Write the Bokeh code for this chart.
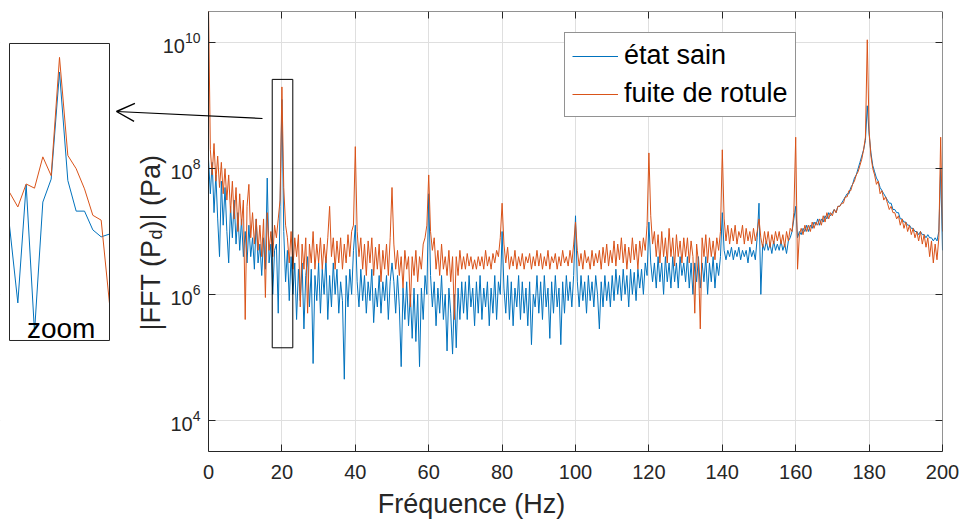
import numpy as np
from math import pi
from bokeh.plotting import figure
from bokeh.models import (Range1d, FixedTicker, LogAxis, LinearAxis, LogScale,
                          BoxAnnotation, Arrow, OpenHead, Label)
from bokeh.embed import file_html
from bokeh.resources import INLINE

# ---------------- data ----------------
# spectrum sampled every 0.5 Hz from 0 to 200 Hz; values are log10 of |FFT(Pd)| in Pa
freq_hz = np.arange(0, 200.5, 0.5)

fuite_log10 = [
    10.6, 8.3, 7.9, 8.4, 7.8, 8.2, 7.7, 8.1, 7.6, 8.0, 7.5, 7.9, 7.3, 7.8, 7.2, 7.7, 7.0, 7.6, 7.1, 7.5,
    5.6, 7.4, 7.75, 6.9, 7.3, 6.8, 7.2, 6.7, 7.1, 6.6, 7.2, 5.95, 7.3, 6.7, 7.0, 6.6, 7.1, 6.9, 7.2, 7.5,
    9.3, 7.7, 7.1, 6.9, 6.5, 7.0, 6.4, 6.9, 6.6, 6.95, 5.8, 6.8, 6.4, 6.9, 5.7, 6.8, 6.5, 7.0, 6.4, 6.8,
    6.5, 6.9, 6.4, 6.8, 6.5, 6.9, 7.4, 6.6, 6.9, 6.4, 6.85, 6.5, 6.9, 6.4, 6.8, 6.5, 6.95, 6.6, 7.0, 7.1,
    8.35, 7.0, 6.6, 6.9, 6.4, 6.8, 6.3, 6.85, 6.5, 6.9, 6.3, 6.75, 6.4, 6.8, 6.2, 6.7, 6.4, 6.8, 6.3, 6.9,
    7.7, 6.8, 6.4, 6.7, 6.3, 6.6, 6.1, 6.7, 6.4, 6.6, 5.8, 6.6, 6.3, 6.7, 6.2, 6.6, 6.4, 6.8, 6.9, 7.1,
    7.9, 7.0, 6.7, 6.9, 6.4, 6.7, 6.3, 6.8, 6.4, 6.6, 6.3, 6.7, 6.2, 6.6, 5.6, 6.6, 6.3, 6.7, 6.4, 6.6,
    6.4, 6.65, 6.45, 6.6, 6.4, 6.55, 6.4, 6.6, 6.45, 6.6, 6.4, 6.7, 6.45, 6.6, 6.4, 6.65, 6.5, 6.7, 6.6, 6.9,
    7.45, 6.8, 6.5, 6.75, 6.4, 6.6, 6.45, 6.7, 6.4, 6.6, 6.45, 6.65, 6.4, 6.6, 6.5, 6.65, 6.4, 6.6, 6.45, 6.7,
    6.45, 6.65, 6.4, 6.6, 6.45, 6.7, 6.4, 6.6, 6.5, 6.65, 6.4, 6.6, 6.45, 6.7, 6.5, 6.6, 6.45, 6.7, 6.5, 6.8,
    7.15, 6.7, 6.45, 6.65, 6.4, 6.7, 6.5, 6.6, 6.4, 6.7, 6.45, 6.65, 6.5, 6.7, 6.4, 6.75, 6.5, 6.8, 6.45, 6.7,
    6.5, 6.85, 6.45, 6.8, 6.55, 6.9, 6.5, 6.8, 6.4, 6.75, 6.5, 6.9, 6.55, 6.8, 6.4, 6.85, 6.6, 6.9, 6.7, 7.1,
    8.25, 7.25, 6.8, 7.0, 6.6, 6.95, 6.5, 7.0, 6.6, 6.9, 6.5, 7.05, 6.6, 6.9, 6.45, 6.95, 6.6, 6.85, 6.5, 6.9,
    6.6, 6.9, 6.5, 6.85, 6.6, 5.7, 6.8, 6.5, 5.45, 6.9, 6.6, 6.95, 6.5, 6.9, 6.6, 6.85, 6.55, 6.9, 6.7, 7.0,
    8.3, 7.2, 6.85, 7.1, 6.8, 7.05, 6.85, 7.1, 6.8, 7.0, 6.9, 7.1, 6.8, 7.05, 6.85, 7.0, 6.8, 7.05, 6.85, 7.0,
    7.2, 6.9, 6.75, 7.0, 6.8, 7.0, 6.75, 6.95, 6.8, 7.0, 6.85, 7.0, 6.8, 6.95, 6.75, 7.0, 6.85, 7.05, 7.0, 7.3,
    8.5, 6.4, 6.95, 7.05, 6.95, 7.1, 7.0, 7.1, 7.0, 7.15, 7.05, 7.15, 7.1, 7.2, 7.1, 7.25, 7.15, 7.3, 7.2, 7.3,
    7.25, 7.35, 7.3, 7.4, 7.4, 7.45, 7.45, 7.55, 7.55, 7.65, 7.65, 7.75, 7.8, 7.9, 7.95, 8.05, 8.15, 8.3, 8.5, 10.05,
    8.6, 8.2, 8.0, 7.9, 7.75, 7.8, 7.6, 7.65, 7.5, 7.55, 7.45, 7.35, 7.4, 7.3, 7.3, 7.2, 7.25, 7.1, 7.2, 7.05,
    7.15, 7.0, 7.1, 6.95, 7.05, 6.9, 7.0, 6.85, 7.0, 6.8, 6.95, 6.75, 6.9, 6.6, 6.85, 6.5, 6.8, 6.55, 6.9, 8.5,
    7.0,
]

sain_log10 = [
    8.15, 7.6, 8.1, 7.3, 7.9, 7.2, 6.6, 7.8, 7.1, 7.7, 7.0, 6.5, 7.4, 6.9, 7.5, 6.8, 7.3, 6.7, 7.2, 6.6,
    7.0, 6.5, 7.1, 6.6, 6.9, 6.4, 7.2, 6.5, 6.8, 6.3, 6.9, 6.4, 7.85, 6.5, 6.8, 6.0, 6.7, 6.8, 5.7, 7.4,
    9.1, 7.0, 6.2, 6.7, 5.9, 6.6, 6.0, 6.5, 5.6, 6.4, 5.9, 6.5, 5.45, 6.3, 6.6, 5.8, 6.4, 4.9, 6.3, 5.9,
    6.5, 5.7, 6.4, 6.0, 6.6, 5.6, 6.3, 5.8, 6.5, 6.0, 6.4, 5.7, 6.2, 5.9, 4.65, 6.3, 5.8, 6.4, 6.0, 6.7,
    7.1, 6.2, 5.8, 6.4, 5.9, 6.3, 5.7, 6.2, 5.9, 6.4, 5.55, 6.1, 5.8, 6.3, 5.7, 6.2, 5.9, 6.3, 5.6, 6.2,
    6.5, 6.2, 5.7, 6.3, 5.8, 4.85, 6.1, 5.6, 6.2, 5.5, 6.0, 5.3, 6.1, 5.25, 6.0, 4.85, 6.1, 5.6, 6.3, 6.0,
    7.6, 6.3, 5.8, 6.2, 5.5, 6.1, 5.7, 6.3, 5.6, 6.0, 5.1, 6.1, 5.7, 5.05, 6.0, 5.15, 6.1, 5.6, 6.2, 5.7,
    6.2, 5.6, 6.3, 5.8, 6.1, 5.5, 6.2, 5.7, 6.3, 5.6, 6.1, 5.8, 6.2, 5.5, 6.1, 5.7, 6.3, 5.6, 6.2, 6.0,
    7.0, 6.1, 5.7, 6.3, 5.6, 6.2, 5.5, 6.1, 5.8, 6.3, 5.6, 6.2, 5.7, 6.1, 5.5, 6.2, 5.2, 6.0, 5.8, 6.3,
    5.7, 6.2, 5.6, 6.3, 5.8, 6.1, 5.3, 6.2, 5.7, 6.3, 5.8, 6.1, 5.2, 6.2, 5.7, 6.3, 5.9, 6.2, 5.8, 6.3,
    7.25, 6.2, 5.8, 6.3, 5.9, 6.2, 5.7, 6.3, 5.9, 6.2, 5.8, 6.3, 6.0, 5.45, 6.2, 5.8, 6.3, 5.9, 6.2, 5.8,
    6.3, 5.9, 6.4, 6.0, 6.3, 5.9, 6.4, 6.0, 6.3, 5.8, 6.4, 6.0, 6.35, 5.9, 6.4, 6.1, 6.4, 6.0, 6.5, 6.3,
    7.15, 6.5, 6.2, 6.5, 6.1, 6.6, 6.2, 6.5, 6.0, 6.6, 6.2, 6.5, 6.1, 6.6, 6.2, 6.5, 6.1, 6.6, 6.3, 6.5,
    6.2, 6.6, 6.1, 6.5, 6.0, 6.5, 6.2, 6.6, 6.1, 6.5, 6.2, 6.6, 6.0, 6.5, 6.2, 6.6, 6.1, 6.5, 6.3, 6.6,
    7.3, 6.7, 6.55, 6.7, 6.6, 6.75, 6.55, 6.7, 6.6, 6.75, 6.55, 6.7, 6.6, 6.7, 6.5, 6.75, 6.6, 6.7, 6.55, 6.9,
    7.45, 6.0, 6.8, 6.7, 6.85, 6.7, 6.8, 6.65, 6.85, 6.7, 6.8, 6.7, 6.85, 6.7, 6.8, 6.65, 6.85, 6.9, 7.0, 7.2,
    7.4, 6.9, 7.0, 6.95, 7.05, 7.0, 7.1, 7.0, 7.1, 7.05, 7.15, 7.1, 7.2, 7.1, 7.2, 7.15, 7.25, 7.2, 7.3, 7.25,
    7.3, 7.35, 7.3, 7.4, 7.4, 7.45, 7.5, 7.55, 7.6, 7.6, 7.7, 7.75, 7.85, 7.9, 8.0, 8.1, 8.2, 8.3, 8.45, 9.0,
    8.55, 8.25, 8.05, 7.95, 7.85, 7.8, 7.7, 7.65, 7.6, 7.55, 7.5, 7.45, 7.45, 7.35, 7.35, 7.3, 7.3, 7.2, 7.2, 7.15,
    7.15, 7.1, 7.1, 7.05, 7.05, 7.0, 7.0, 6.95, 7.0, 6.95, 6.95, 6.9, 6.95, 6.9, 6.9, 6.85, 6.9, 6.85, 7.0, 8.0,
    6.7,
]

# zoomed window around 20 Hz (inset)
zoom_freq_hz = [18.5, 18.75, 19.0, 19.25, 19.5, 19.75, 20.0, 20.25, 20.5, 20.75, 21.0, 21.25, 21.5]
zoom_sain_log10 = [6.80, 5.69, 7.39, 5.27, 7.14, 7.47, 9.01, 7.45, 7.01, 7.01, 6.74, 6.64, 6.68]
zoom_fuite_log10 = [7.28, 7.07, 7.40, 7.34, 7.79, 7.52, 9.22, 7.81, 7.62, 7.33, 6.95, 6.88, 5.68]

x_ticks = [0, 20, 40, 60, 80, 100, 120, 140, 160, 180, 200]
y_ticks = [1e4, 1e6, 1e8, 1e10]
series_labels = ["état sain", "fuite de rotule"]

# ---------------- layout constants ----------------
X_MIN, X_MAX = 0, 200                 # axes box of the spectrum
Y_MIN, Y_MAX = 10 ** 3.5, 10 ** 10.5
X_VIEW_LEFT = -56.68                  # frame extends left to hold y-label, arrow and inset
ZOOM_X = (18.5, 21.5)                 # window shown in the inset
ZOOM_Y = (10 ** 5.15, 10 ** 9.42)
INSET_X_RANGE = (18.23, 46.49)        # maps the zoom window onto the inset box
INSET_Y_RANGE = (10 ** 3.554, 10 ** 9.88)

BLUE = "#0072BD"
ORANGE = "#D95319"
AX = "#262626"
GRID = "#dfdfdf"
FONT = "Liberation Sans"

sain = 10 ** np.array(sain_log10)
fuite = 10 ** np.array(fuite_log10)

p = figure(width=963, height=524, x_range=Range1d(X_VIEW_LEFT, X_MAX), y_range=Range1d(Y_MIN, Y_MAX),
           y_axis_type="log", output_backend="svg", toolbar_location=None,
           min_border_left=0, min_border_right=21, min_border_top=11, min_border_bottom=73,
           background_fill_color="white", border_fill_color="white", outline_line_color=None,
           extra_x_ranges={"inset": Range1d(*INSET_X_RANGE)},
           extra_y_ranges={"inset": Range1d(*INSET_Y_RANGE)},
           extra_y_scales={"inset": LogScale()})

# keep grid lines inside the axes box only
p.add_layout(BoxAnnotation(right=X_MIN, fill_color="white", fill_alpha=1, line_color=None,
                           level="underlay"))

p.line(freq_hz, sain, line_color=BLUE, line_width=1, line_join="round",
       legend_label=series_labels[0])
p.line(freq_hz, fuite, line_color=ORANGE, line_width=1, line_join="round",
       legend_label=series_labels[1])

xt = FixedTicker(ticks=x_ticks)
yt = FixedTicker(ticks=y_ticks)

xa = p.xaxis[0]
xa.ticker = xt
xa.bounds = (X_MIN, X_MAX)
ya = p.yaxis[0]
ya.ticker = yt
ya.fixed_location = X_MIN

for ax in (xa, ya):
    ax.axis_line_color = AX
    ax.major_tick_line_color = AX
    ax.major_tick_in = 7
    ax.major_tick_out = 0
    ax.minor_tick_line_color = None
    ax.major_label_text_font = FONT
    ax.major_label_text_font_size = "20px"
    ax.major_label_text_color = AX

xa.major_label_standoff = 13
xa.axis_label = "Fréquence (Hz)"
xa.axis_label_text_font = FONT
xa.axis_label_text_font_size = "27px"
xa.axis_label_text_font_style = "normal"
xa.axis_label_text_color = AX
xa.axis_label_standoff = 7
ya.major_label_standoff = 8

top_ax = LinearAxis(ticker=FixedTicker(ticks=x_ticks), fixed_location=Y_MAX, bounds=(X_MIN, X_MAX),
                    major_tick_in=7, major_tick_out=0, major_label_text_color=None,
                    axis_line_color=AX, major_tick_line_color=AX, minor_tick_line_color=None)
right_ax = LogAxis(ticker=FixedTicker(ticks=y_ticks), fixed_location=X_MAX,
                   major_tick_in=7, major_tick_out=0, major_label_text_color=None,
                   axis_line_color=AX, major_tick_line_color=AX, minor_tick_line_color=None)
p.add_layout(top_ax, "above")
p.add_layout(right_ax, "right")

p.xgrid.grid_line_color = GRID
p.ygrid.grid_line_color = GRID
p.xgrid.ticker = xt
p.ygrid.ticker = yt

# y axis label with subscript, built from rotated labels
lab_kw = dict(angle=pi / 2, text_align="left", text_baseline="alphabetic",
              text_font=FONT, text_color=AX)
p.add_layout(Label(x=-15.8, y=10 ** 5.425, text="|FFT (P", text_font_size="27px", **lab_kw))
p.add_layout(Label(x=-14.4, y=10 ** 6.873, text="d", text_font_size="18px", **lab_kw))
p.add_layout(Label(x=-15.8, y=10 ** 7.032, text=")| (Pa)", text_font_size="27px", **lab_kw))

# legend
lg = p.legend[0]
lg.location = (564, 334)
lg.margin = 0
lg.padding = 7
lg.spacing = 7
lg.label_standoff = 6
lg.glyph_width = 46
lg.glyph_height = 20
lg.label_height = 31
lg.label_text_font = FONT
lg.label_text_font_size = "27px"
lg.label_text_color = "black"
lg.border_line_color = AX
lg.border_line_width = 1
lg.background_fill_color = "white"
lg.background_fill_alpha = 1

# zoom window marker and arrow towards the inset
p.add_layout(BoxAnnotation(left=17.36, right=22.97, bottom=ZOOM_Y[0], top=ZOOM_Y[1],
                           fill_color=None, line_color="black", line_alpha=1, line_width=1))
p.add_layout(Arrow(x_start=14.71, y_start=10 ** 8.798, x_end=-25.07, y_end=10 ** 8.909,
                   line_color="black", line_width=1.1,
                   end=OpenHead(size=18, line_color="black", line_width=1.4)))

# ---------------- inset ----------------
p.add_layout(BoxAnnotation(left=ZOOM_X[0], right=ZOOM_X[1], bottom=ZOOM_Y[0], top=ZOOM_Y[1],
                           x_range_name="inset", y_range_name="inset",
                           fill_color=None, line_color=AX, line_alpha=1, line_width=1))
p.line(zoom_freq_hz, 10 ** np.array(zoom_sain_log10), line_color=BLUE, line_width=1,
       x_range_name="inset", y_range_name="inset")
p.line(zoom_freq_hz, 10 ** np.array(zoom_fuite_log10), line_color=ORANGE, line_width=1,
       x_range_name="inset", y_range_name="inset")
p.add_layout(Label(x=20.05, y=10 ** 5.32, text="zoom", text_align="center",
                   text_baseline="alphabetic", text_font=FONT, text_font_size="28px",
                   text_color="black", x_range_name="inset", y_range_name="inset"))

open("out.html", "w").write(file_html(p, INLINE))
